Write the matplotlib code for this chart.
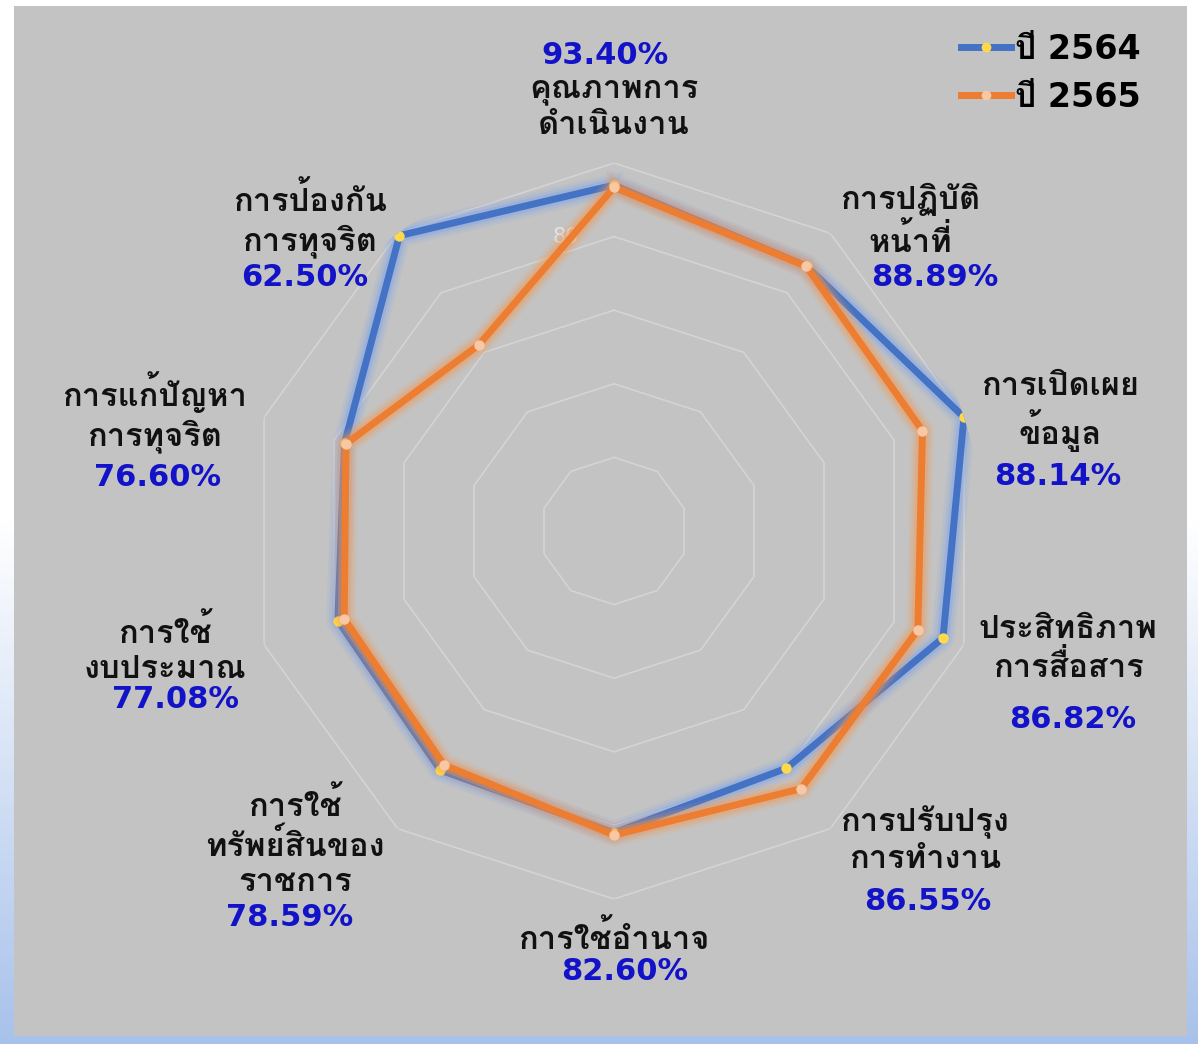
import numpy as np
import matplotlib
matplotlib.use("Agg")
import matplotlib.pyplot as plt
import matplotlib.patheffects as pe
from matplotlib import font_manager, ft2font
from matplotlib.lines import Line2D

# data
categories = ['คุณภาพการ\nดำเนินงาน', 'การปฏิบัติ\nหน้าที่', 'การเปิดเผย\nข้อมูล',
              'ประสิทธิภาพ\nการสื่อสาร', 'การปรับปรุง\nการทำงาน', 'การใช้อำนาจ',
              'การใช้\nทรัพย์สินของ\nราชการ', 'การใช้\nงบประมาณ',
              'การแก้ปัญหา\nการทุจริต', 'การป้องกัน\nการทุจริต']
y2564 = [94.0, 89.0, 100.0, 94.0, 79.7, 82.0, 80.3, 78.9, 77.0, 99.2]
y2565 = [93.40, 88.89, 88.14, 86.82, 86.55, 82.60, 78.59, 77.08, 76.60, 62.50]
series_names = ['ปี 2564', 'ปี 2565']
rings = [20, 40, 60, 80, 100]


# pick a Thai font that has a real bold file
def bold_thai_font(prefs):
    ok = set()
    for f in font_manager.fontManager.ttflist:
        if f.weight in (700, 'bold') and f.style == 'normal':
            try:
                if 0x0E01 in ft2font.FT2Font(f.fname).get_charmap():
                    ok.add(f.name)
            except Exception:
                pass
    for p in prefs:
        if p in ok:
            return p
    return sorted(ok)[0] if ok else 'DejaVu Sans'


thai = bold_thai_font(['Loma', 'Tahoma', 'Garuda', 'Noto Sans Thai Looped',
                       'IBM Plex Sans Thai Looped', 'Noto Sans Thai', 'Sarabun'])
plt.rcParams['font.family'] = [thai, 'DejaVu Sans']

W, H = 1198, 1044
fig = plt.figure(figsize=(W / 100, H / 100), dpi=100)

# background: pale gradient edges + gray panel
bg = fig.add_axes([0, 0, 1, 1])
yy = np.linspace(0, 1, 200)[:, None]
top = np.array([1.0, 1.0, 1.0])
bot = np.array([0.66, 0.76, 0.92])
t = np.clip((yy - 0.5) / 0.5, 0, 1)[..., None]
grad = top * (1 - t) + bot * t
grad = np.repeat(grad, 10, axis=1)
bg.imshow(grad, aspect='auto', extent=[0, 1, 0, 1])
bg.add_patch(plt.Rectangle((14 / W, 1 - 1036 / H), (1187 - 14) / W, (1036 - 6) / H,
                           facecolor='#c3c3c3', edgecolor='none'))
bg.set_xlim(0, 1)
bg.set_ylim(0, 1)
bg.axis('off')

cx, cy, R = 614, 531, 368
ax = fig.add_axes([(cx - R) / W, (H - cy - R) / H, 2 * R / W, 2 * R / H], projection='polar')
ax.set_theta_zero_location('N')
ax.set_theta_direction(-1)
ax.set_ylim(0, 100)
ax.set_xticks([])
ax.set_yticks([])
ax.grid(False)
ax.spines['polar'].set_visible(False)
ax.patch.set_alpha(0)

n = len(categories)
theta = np.arange(n) * 2 * np.pi / n
tc = np.append(theta, theta[0])

for r in rings:
    ax.plot(tc, [r] * (n + 1), color='#d4d4d4', lw=1.2, zorder=1)
ax.annotate('80', xy=(0, 80), xytext=(-48, 0), textcoords='offset pixels',
            ha='center', va='center', fontsize=15, color='#e4e4e4',
            family='DejaVu Sans', zorder=2)

styles = [
    ('#4472c4', '#7da3ec', '#ffd94a'),
    ('#ed7d31', '#f39a55', '#f8c8a4'),
]
for vals, (col, glow, mfc), z in zip([y2564, y2565], styles, [3, 5]):
    vc = np.append(vals, vals[0])
    effects = [pe.Stroke(linewidth=17, foreground=glow, alpha=0.12),
               pe.Stroke(linewidth=13, foreground=glow, alpha=0.2),
               pe.Stroke(linewidth=9, foreground=glow, alpha=0.35),
               pe.Normal()]
    ax.plot(tc, vc, color=col, lw=5, solid_joinstyle='round', zorder=z,
            path_effects=effects)
    ax.plot(theta, vals, ls='none', marker='o', ms=6.5, mfc=mfc, mec=mfc,
            zorder=z + 1)

# category labels and percentages (pixel centers)
label_pos = [(614, 108), (910, 220), (1060, 412), (1068, 649), (925, 840),
             (614, 938), (295, 842), (165, 649), (155, 412), (310, 220)]
pct_pos = [(605, 55), (935, 278), (1058, 476), (1073, 720), (928, 902),
           (625, 972), (290, 917), (175, 700), (158, 478), (305, 277)]

for lab, v, (lx, ly), (px, py) in zip(categories, y2565, label_pos, pct_pos):
    fig.text(lx / W, 1 - ly / H, lab, ha='center', va='center', fontsize=23.5,
             fontweight='bold', color='#111111', linespacing=1.25)
    fig.text(px / W, 1 - py / H, '%.2f%%' % v, ha='center', va='center',
             fontsize=22, fontweight='bold', color='#1212c8', family='DejaVu Sans')

handles = [Line2D([], [], color=c, lw=5, marker='o', ms=6, mfc=m, mec=m)
           for c, g, m in styles]
fig.legend(handles, series_names, loc='upper right',
           bbox_to_anchor=(1157 / W, 1 - 16 / H), frameon=False,
           prop={'size': 24, 'weight': 'bold', 'family': ['DejaVu Sans', thai]},
           handlelength=1.5, handletextpad=0.1, labelspacing=0.45,
           borderpad=0)

fig.savefig('out.png', dpi=100)
